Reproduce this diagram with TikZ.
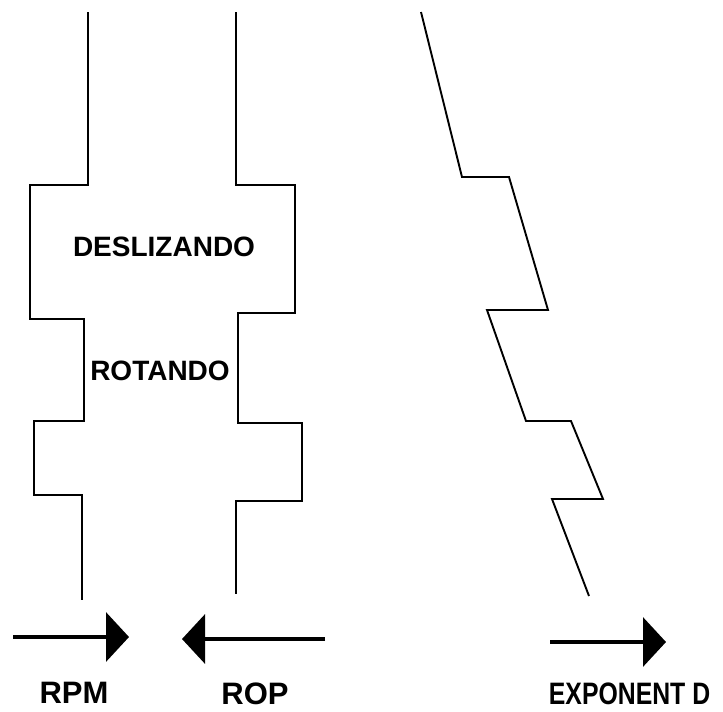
\documentclass[tikz,border=0pt]{standalone}
\usepackage{fontspec}
\setmainfont{Liberation Sans}
\usetikzlibrary{arrows.meta}

\begin{document}
\begin{tikzpicture}[x=1pt,y=-1pt,line width=1.9pt,
      every node/.style={inner sep=0pt,font=\bfseries\fontsize{28}{30}\selectfont},
      lbl/.style={font=\bfseries\fontsize{31}{34}\selectfont},
      dir/.style={line width=3.5pt,->},
      >={Triangle[width=49pt,length=23pt]}]
      \useasboundingbox (0,0) rectangle (723,712);
      % RPM, ROP and exponent d traces
      \draw(88,12)--(88,185)--(30,185)--(30,319)--(84,319)--(84,421)--(34,421)
         --(34,495)--(82,495)--(82,600);
      \draw(236,12)--(236,185)--(295,185)--(295,313)--(238,313)--(238,423)
         --(302,423)--(302,501)--(236,501)--(236,594);
      \draw(421,12)--(462,177)--(509,177)--(548,310)--(487,310)--(526,421)
         --(571,421)--(603,499)--(552,499)--(589,596);
      \node(desl)at(164,247){DESLIZANDO};
      \node(rot)at(160,371){ROTANDO};
      \coordinate(rpma)at(13,637);\coordinate(rpmb)at(129,637);
      \coordinate(ropa)at(325,639);\coordinate(ropb)at(182,639);
      \coordinate(expa)at(550,642);\coordinate(expb)at(666,642);
      \draw[dir](rpma)--(rpmb);
      \draw[dir](ropa)--(ropb);
      \draw[dir](expa)--(expb);
      \node[lbl](rpm)at(74,693){RPM};
      \node[lbl](rop)at(255,694){ROP};
      \node[lbl,anchor=west](expd)at(548,694){\scalebox{0.8}[1]{EXPONENT D}};
\end{tikzpicture}
\end{document}
